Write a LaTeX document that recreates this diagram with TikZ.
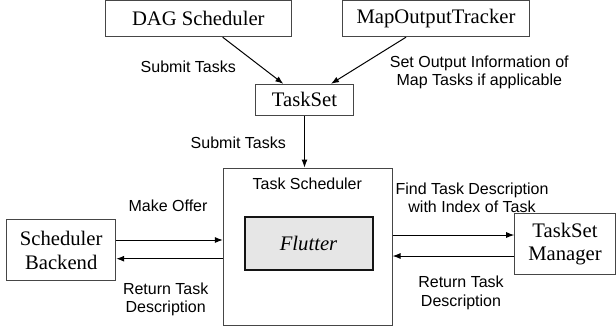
\documentclass[tikz,border=0pt]{standalone}
\usepackage{fontspec}
\setmainfont{Liberation Serif}
\setsansfont{Liberation Sans}
\usetikzlibrary{calc,arrows.meta}
\tikzset{every picture/.style={line width=0.75pt}}
\tikzset{
	box/.style={draw={rgb, 255:red, 70; green, 70; blue, 70 }, inner sep=0pt, align=center, font=\fontsize{15.5}{17.5}\selectfont},
	lbl/.style={inner sep=0pt, align=center, font=\sffamily\fontsize{12}{13.8}\selectfont},
	arr/.style={-{Latex[length=6pt,width=4.5pt]}},
}

\begin{document}
\begin{tikzpicture}[x=0.75pt,y=0.75pt,yscale=-1,xscale=1]
	\useasboundingbox (0,0) rectangle (616,333);

	%Shape: Rectangle [id:dag]
	\node [box, minimum width=139.5pt, minimum height=27pt] (dag) at (198.3,18.7) {DAG Scheduler};
	%Shape: Rectangle [id:mot]
	\node [box, minimum width=140pt, minimum height=27pt] (mot) at (436,18.7) {MapOutputTracker};
	%Shape: Rectangle [id:taskset]
	\node [box, minimum width=73.2pt, minimum height=23.25pt] (taskset) at (304.5,99.8) {TaskSet};
	%Shape: Rectangle [id:tsched]
	\node [box, minimum width=126.5pt, minimum height=118.3pt] (tsched) at (307.7,246.9) {};
	%Shape: Rectangle [id:flutter]
	\node [box, draw={rgb, 255:red, 20; green, 20; blue, 20 }, line width=1.5pt, fill={rgb, 255:red, 230; green, 230; blue, 230 }, minimum width=96pt, minimum height=39.4pt, font=\itshape\fontsize{15.5}{17.5}\selectfont] (flutter) at (308.5,243.7) {Flutter};
	%Shape: Rectangle [id:backend]
	\node [box, minimum width=81.75pt, minimum height=45.5pt] (backend) at (61.2,250.3) {Scheduler\\Backend};
	%Shape: Rectangle [id:manager]
	\node [box, minimum width=75.4pt, minimum height=45.75pt] (manager) at (565,243.8) {TaskSet\\Manager};

	%Straight Lines [id:dag-taskset]
	\draw [arr] ($(dag.south)+(24.4,0)$) -- ($(taskset.north)+(-21.2,0)$);
	%Straight Lines [id:mot-taskset]
	\draw [arr] ($(mot.south)+(-30,0)$) -- ($(taskset.north)+(26.5,0)$);
	%Straight Lines [id:taskset-tsched]
	\draw [arr] (taskset.south) -- (taskset.south |- tsched.north);
	%Straight Lines [id:backend-tsched]
	\draw [arr] ($(backend.east)+(0,-10.3)$) coordinate (offer) -- (offer -| tsched.west);
	%Straight Lines [id:tsched-backend]
	\draw [arr] ($(backend.east)+(0,8.4)$) coordinate (ret) (ret -| tsched.west) -- (ret);
	%Straight Lines [id:tsched-manager]
	\draw [arr] ($(manager.west)+(0,-8.8)$) coordinate (find) (find -| tsched.east) -- (find);
	%Straight Lines [id:manager-tsched]
	\draw [arr] ($(manager.west)+(0,12.2)$) coordinate (desc) -- (desc -| tsched.east);

	% Text Node
	\node [lbl] (submit1) at (188.3,66.7) {Submit Tasks};
	% Text Node
	\node [lbl] (setout) at (479.3,72.5) {Set Output Information of\\Map Tasks if applicable};
	% Text Node
	\node [lbl] (submit2) at (238.3,142.7) {Submit Tasks};
	% Text Node
	\node [lbl] (tschedlbl) at (307.3,183.3) {Task Scheduler};
	% Text Node
	\node [lbl] (offerlbl) at (168,205.7) {Make Offer};
	% Text Node
	\node [lbl] (retlbl) at (165.7,299.2) {Return Task\\Description};
	% Text Node
	\node [lbl] (findlbl) at (472,197.7) {Find Task Description\\with Index of Task};
	% Text Node
	\node [lbl] (desclbl) at (461,293) {Return Task\\Description};
\end{tikzpicture}
\end{document}
